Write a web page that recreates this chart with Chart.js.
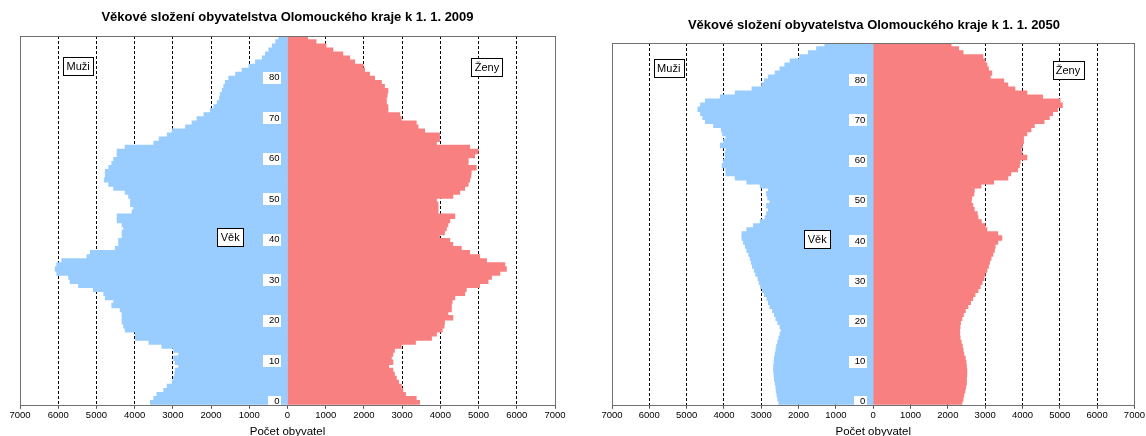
<!DOCTYPE html>
<html lang="cs">
<head>
<meta charset="utf-8">
<title>Věkové složení obyvatelstva Olomouckého kraje</title>
<script src="https://cdn.jsdelivr.net/npm/chart.js@4.4.1/dist/chart.umd.min.js"></script>
<style>
  html, body { margin: 0; padding: 0; background: #fff; }
  .box { position: absolute; top: 0; width: 573px; height: 436px; }
  #left { left: 0; }
  #right { left: 573px; }
</style>
</head>
<body>
<div class="box" id="left"><canvas id="chart-2009"></canvas></div>
<div class="box" id="right"><canvas id="chart-2050"></canvas></div>
<script>
// age categories (0 at the bottom)
const ages2009 = [0,1,2,3,4,5,6,7,8,9,10,11,12,13,14,15,16,17,18,19,20,21,22,23,24,25,26,27,28,29,30,31,32,33,34,35,36,37,38,39,40,41,42,43,44,45,46,47,48,49,50,51,52,53,54,55,56,57,58,59,60,61,62,63,64,65,66,67,68,69,70,71,72,73,74,75,76,77,78,79,80,81,82,83,84,85,86,87,88,89,90];
const ages2050 = [0,1,2,3,4,5,6,7,8,9,10,11,12,13,14,15,16,17,18,19,20,21,22,23,24,25,26,27,28,29,30,31,32,33,34,35,36,37,38,39,40,41,42,43,44,45,46,47,48,49,50,51,52,53,54,55,56,57,58,59,60,61,62,63,64,65,66,67,68,69,70,71,72,73,74,75,76,77,78,79,80,81,82,83,84,85,86,87,88,89];
const ageTicks = [0, 10, 20, 30, 40, 50, 60, 70, 80];

// 1. 1. 2009
const men2009 = [3580,3490,3410,3230,3140,3010,2970,2940,2930,2840,
  2930,2970,2840,2970,3280,3620,3970,3970,4240,4280,
  4320,4320,4320,4370,4590,4540,4760,4800,5070,5460,
  5680,5720,6030,6070,6030,5900,5240,5150,4500,4410,
  4410,4320,4320,4280,4320,4450,4450,4060,4020,4100,
  4100,4150,4240,4540,4670,4780,4760,4760,4670,4590,
  4540,4450,4450,4240,3490,3350,3140,3010,2660,2490,
  2360,2180,2010,1920,1830,1770,1750,1700,1660,1620,
  1530,1350,1180,1000,830,650,570,480,390,300,220];
const women2009 = [3450,3360,3080,3010,2970,2900,2840,2790,2750,2640,
  2750,2710,2750,2790,2970,3340,3760,3890,4040,4090,
  4100,4320,4190,4280,4280,4300,4370,4630,4670,5020,
  5240,5330,5550,5720,5680,5200,5020,4760,4540,4320,
  4240,3970,4100,4150,4190,4240,4370,3930,3930,3930,
  3890,4320,4500,4630,4720,4760,4790,4800,4930,4720,
  4720,4890,4980,4760,3890,3970,3970,3580,3410,3360,
  2970,2930,2620,2620,2580,2580,2600,2620,2530,2450,
  2270,2140,2010,1970,1750,1620,1440,1180,1000,740,520];

// 1. 1. 2050
const men2050 = [2520,2550,2570,2590,2600,2620,2640,2650,2660,2660,
  2650,2640,2620,2600,2580,2550,2520,2490,2460,2490,
  2550,2600,2640,2690,2760,2800,2840,2910,2960,3010,
  3050,3080,3140,3180,3230,3260,3290,3330,3380,3420,
  3470,3510,3510,3380,3200,3020,2890,2850,2800,2850,
  2760,2820,2850,2800,3020,3380,3690,3940,3940,4040,
  4000,3960,3960,3930,4090,4000,3940,4030,4060,4270,
  4490,4560,4620,4690,4620,4490,4090,3690,3240,2980,
  2910,2800,2620,2490,2360,2220,1960,1730,1510,1290];
const women2050 = [2370,2400,2420,2450,2470,2490,2490,2500,2500,2490,
  2480,2460,2420,2400,2380,2350,2320,2310,2310,2320,
  2330,2370,2410,2460,2530,2600,2660,2720,2800,2860,
  2910,2960,2990,3040,3080,3110,3150,3200,3240,3260,
  3330,3440,3330,3040,2990,2890,2800,2780,2700,2660,
  2620,2630,2690,2700,2880,3220,3600,3680,3860,3910,
  3930,4110,3980,3950,3990,4020,4020,4110,4220,4310,
  4570,4710,4800,4930,5060,5000,4530,4110,3790,3600,
  3490,3130,3170,3080,3040,2990,2930,2400,2280,2080];

const FONT = '"Liberation Sans", Arial, sans-serif';

// age labels in the middle, boxed captions, frame
const pyramidDecor = {
  id: 'pyramidDecor',
  afterDatasetsDraw(chart) {
    const ctx = chart.ctx;
    const area = chart.chartArea;
    const x = chart.scales.x;
    const y = chart.scales.y;
    const x0 = x.getPixelForValue(0);
    ctx.save();

    ctx.font = '9.5px ' + FONT;
    ctx.textAlign = 'right';
    ctx.textBaseline = 'middle';
    for (let i = 0; i < ageTicks.length; i++) {
      const txt = String(ageTicks[i]);
      const py = y.getPixelForValue(ageTicks[i]) - 1;
      const w = ctx.measureText(txt).width;
      ctx.fillStyle = '#fff';
      ctx.fillRect(Math.round(x0 - 14 - w), Math.round(py - 6), Math.round(w + 7.5), 12);
      ctx.fillStyle = '#000';
      ctx.fillText(txt, x0 - 8, py);
    }

    ctx.font = '11px ' + FONT;
    ctx.textAlign = 'center';
    const notes = [['Muži', -5480, 83.2], ['Ženy', 5220, 82.8], ['Věk', -1500, 40.8]];
    for (const n of notes) {
      const px = x.getPixelForValue(n[1]);
      const py = y.getPixelForValue(n[2]);
      const w = Math.round(ctx.measureText(n[0]).width + 7);
      const h = 18;
      const bx = Math.round(px - w / 2) + 0.5;
      const by = Math.round(py - h / 2) + 0.5;
      ctx.fillStyle = '#fff';
      ctx.fillRect(bx, by, w, h);
      ctx.strokeStyle = '#000';
      ctx.lineWidth = 1;
      ctx.strokeRect(bx, by, w, h);
      ctx.fillStyle = '#000';
      ctx.fillText(n[0], px, py + 1);
    }

    ctx.strokeStyle = '#707070';
    ctx.lineWidth = 1;
    ctx.strokeRect(Math.round(area.left) + 0.5, Math.round(area.top) + 0.5,
      Math.round(area.right - area.left), Math.round(area.bottom - area.top));
    ctx.restore();
  }
};

function makePyramid(canvasId, titleText, ages, men, women, pad, titlePad) {
  return new Chart(document.getElementById(canvasId), {
    type: 'bar',
    data: {
      labels: ages,
      datasets: [
        {
          label: 'Muži',
          data: men.map(v => -v),
          backgroundColor: '#99CCFF',
          borderWidth: 0,
          inflateAmount: 0.7,
          barPercentage: 1,
          categoryPercentage: 1
        },
        {
          label: 'Ženy',
          data: women,
          backgroundColor: '#F88080',
          borderWidth: 0,
          inflateAmount: 0.7,
          barPercentage: 1,
          categoryPercentage: 1
        }
      ]
    },
    options: {
      indexAxis: 'y',
      responsive: true,
      maintainAspectRatio: false,
      animation: false,
      layout: { padding: pad },
      plugins: {
        legend: { display: false },
        tooltip: { enabled: false },
        title: {
          display: true,
          text: titleText,
          color: '#000',
          font: { family: FONT, size: 13, weight: 'bold' },
          padding: titlePad
        }
      },
      scales: {
        x: {
          type: 'linear',
          min: -7000,
          max: 7000,
          stacked: true,
          ticks: {
            stepSize: 1000,
            autoSkip: false,
            maxRotation: 0,
            padding: 1,
            color: '#000',
            font: { family: FONT, size: 9.5 },
            callback: v => Math.abs(v)
          },
          grid: {
            color: c => (c.tick && (c.tick.value === 0 || Math.abs(c.tick.value) === 7000)) ? 'rgba(0,0,0,0)' : '#000',
            lineWidth: 1,
            drawTicks: true,
            tickLength: 4,
            tickColor: '#555',
            tickBorderDash: []
          },
          border: { display: false, dash: [3, 2] },
          title: {
            display: true,
            text: 'Počet obyvatel',
            color: '#000',
            font: { family: FONT, size: 11.5 },
            padding: { top: 3, bottom: -3 }
          }
        },
        y: {
          type: 'category',
          reverse: true,
          stacked: true,
          display: false,
          grid: { display: false }
        }
      }
    },
    plugins: [pyramidDecor]
  });
}

const chart2009 = makePyramid('chart-2009', 'Věkové složení obyvatelstva Olomouckého kraje k 1. 1. 2009',
  ages2009, men2009, women2009, { left: 20, right: 18, top: 0, bottom: 0 }, { top: 9.5, bottom: 10.9 });
const chart2050 = makePyramid('chart-2050', 'Věkové složení obyvatelstva Olomouckého kraje k 1. 1. 2050',
  ages2050, men2050, women2050, { left: 39, right: 10, top: 0, bottom: 0 }, { top: 17.5, bottom: 9.9 });
</script>
</body>
</html>
